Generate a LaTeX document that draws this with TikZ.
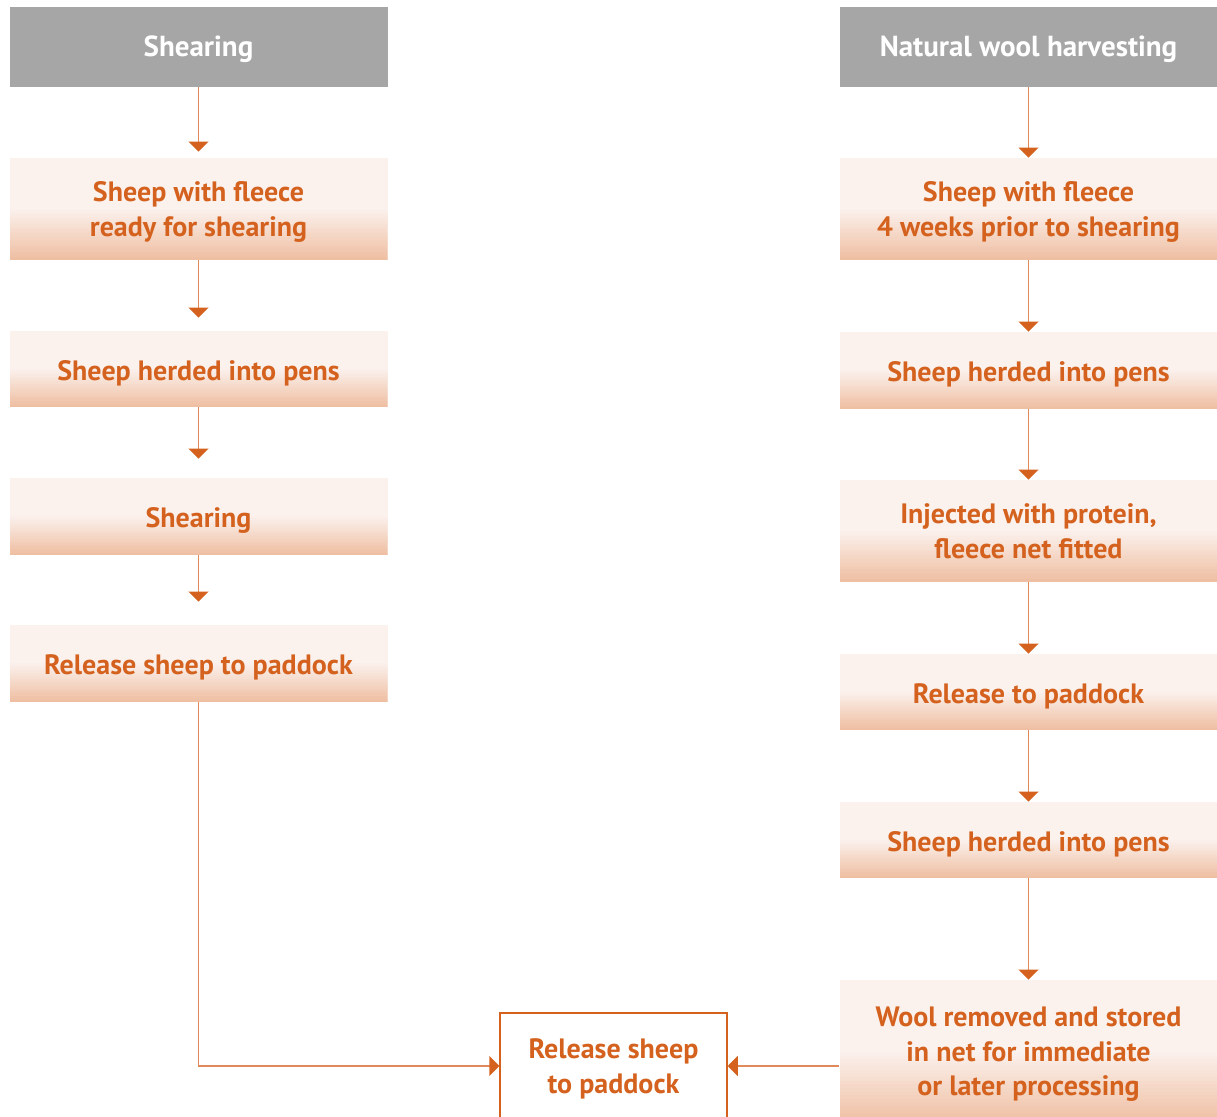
\documentclass[tikz,border=0pt]{standalone}
\usepackage{fontspec}
\setmainfont{PT Sans}
\usetikzlibrary{arrows.meta,calc}

\definecolor{headgray}{HTML}{A5A6A5}
\definecolor{woolorange}{HTML}{D4621E}
\definecolor{flowline}{HTML}{E0895A}
\definecolor{boxtop}{HTML}{FBF2EE}
\definecolor{boxbot}{HTML}{EFBFA3}

\tikzset{
  boxfont/.style={font=\bfseries\fontsize{14}{17.3}\selectfont},
  head/.style={font=\bfseries\fontsize{14.5}{17.3}\selectfont,fill=headgray,text=white,minimum width=189pt,minimum height=40pt,inner sep=0pt,
    execute at begin node={\rule{0pt}{13pt}}},
  stepbox/.style={boxfont,fill=boxtop,text=woolorange,align=center,minimum width=189pt,inner sep=0pt,
    execute at begin node={\rule{0pt}{14pt}},
    path picture={
      \foreach \k [evaluate=\k as \lo using \k/40, evaluate=\k as \hi using (\k+1.1)/40,
                   evaluate=\k as \mix using int(100-5*\k)] in {0,...,19}
        \fill[boxbot!\mix!boxtop]
          ($(path picture bounding box.south west)!\lo!(path picture bounding box.north west)$) rectangle
          ($(path picture bounding box.south east)!\hi!(path picture bounding box.north east)$);}},
  twoline/.style={text depth=-1.5pt},
  endbox/.style={boxfont,fill=white,draw=woolorange,line width=0.75pt,text=woolorange,align=center,
    minimum width=113.5pt,minimum height=53pt,inner sep=0pt},
  flow/.style={draw=flowline,line width=0.75pt,-{Triangle[width=10pt,length=5pt,color=woolorange]}},
}

\begin{document}
\begin{tikzpicture}[x=0.5pt,y=0.5pt]
  \useasboundingbox (0,0) rectangle (1217,-1117);

  % shearing
  \node[head] (hL) at (198.5,-47) {Shearing};
  \node[stepbox,twoline,minimum height=51pt] (l1) at (198.5,-209) {Sheep with fleece\\ready for shearing};
  \node[stepbox,minimum height=38pt] (l2) at (198.5,-369) {Sheep herded into pens};
  \node[stepbox,minimum height=38.5pt] (l3) at (198.5,-516.5) {Shearing};
  \node[stepbox,minimum height=38.5pt] (l4) at (198.5,-663.5) {Release sheep to paddock};

  % natural wool harvesting
  \node[head] (hR) at (1028.5,-47) {Natural wool harvesting};
  \node[stepbox,twoline,minimum height=51pt] (r1) at (1028.5,-209) {Sheep with fleece\\4 weeks prior to shearing};
  \node[stepbox,minimum height=38.5pt] (r2) at (1028.5,-370.5) {Sheep herded into pens};
  \node[stepbox,twoline,minimum height=51pt] (r3) at (1028.5,-531) {Injected with protein,\\fleece net fitted};
  \node[stepbox,minimum height=38pt] (r4) at (1028.5,-692) {Release to paddock};
  \node[stepbox,minimum height=38pt] (r5) at (1028.5,-840) {Sheep herded into pens};
  \node[stepbox,text depth=0.5pt,minimum height=72pt] (r6) at (1028.5,-1052) {Wool removed and stored\\in net for immediate\\or later processing};

  \node[endbox,twoline] (rel) at (613.5,-1066) {Release sheep\\to paddock};

  % arrows
  \draw[flow,shorten >=3pt] (hL) -- (l1);
  \draw[flow,shorten >=6.5pt] (l1) -- (l2);
  \draw[flow,shorten >=9.5pt] (l2) -- (l3);
  \draw[flow,shorten >=11.5pt] (l3) -- (l4);
  \draw[flow] (l4.south) |- (rel.west);

  \draw[flow] (hR) -- (r1);
  \draw[flow] (r1) -- (r2);
  \draw[flow] (r2) -- (r3);
  \draw[flow] (r3) -- (r4);
  \draw[flow] (r4) -- (r5);
  \draw[flow] (r5) -- (r6);
  \draw[flow] (r6.west |- rel.east) -- (rel.east);
\end{tikzpicture}
\end{document}
